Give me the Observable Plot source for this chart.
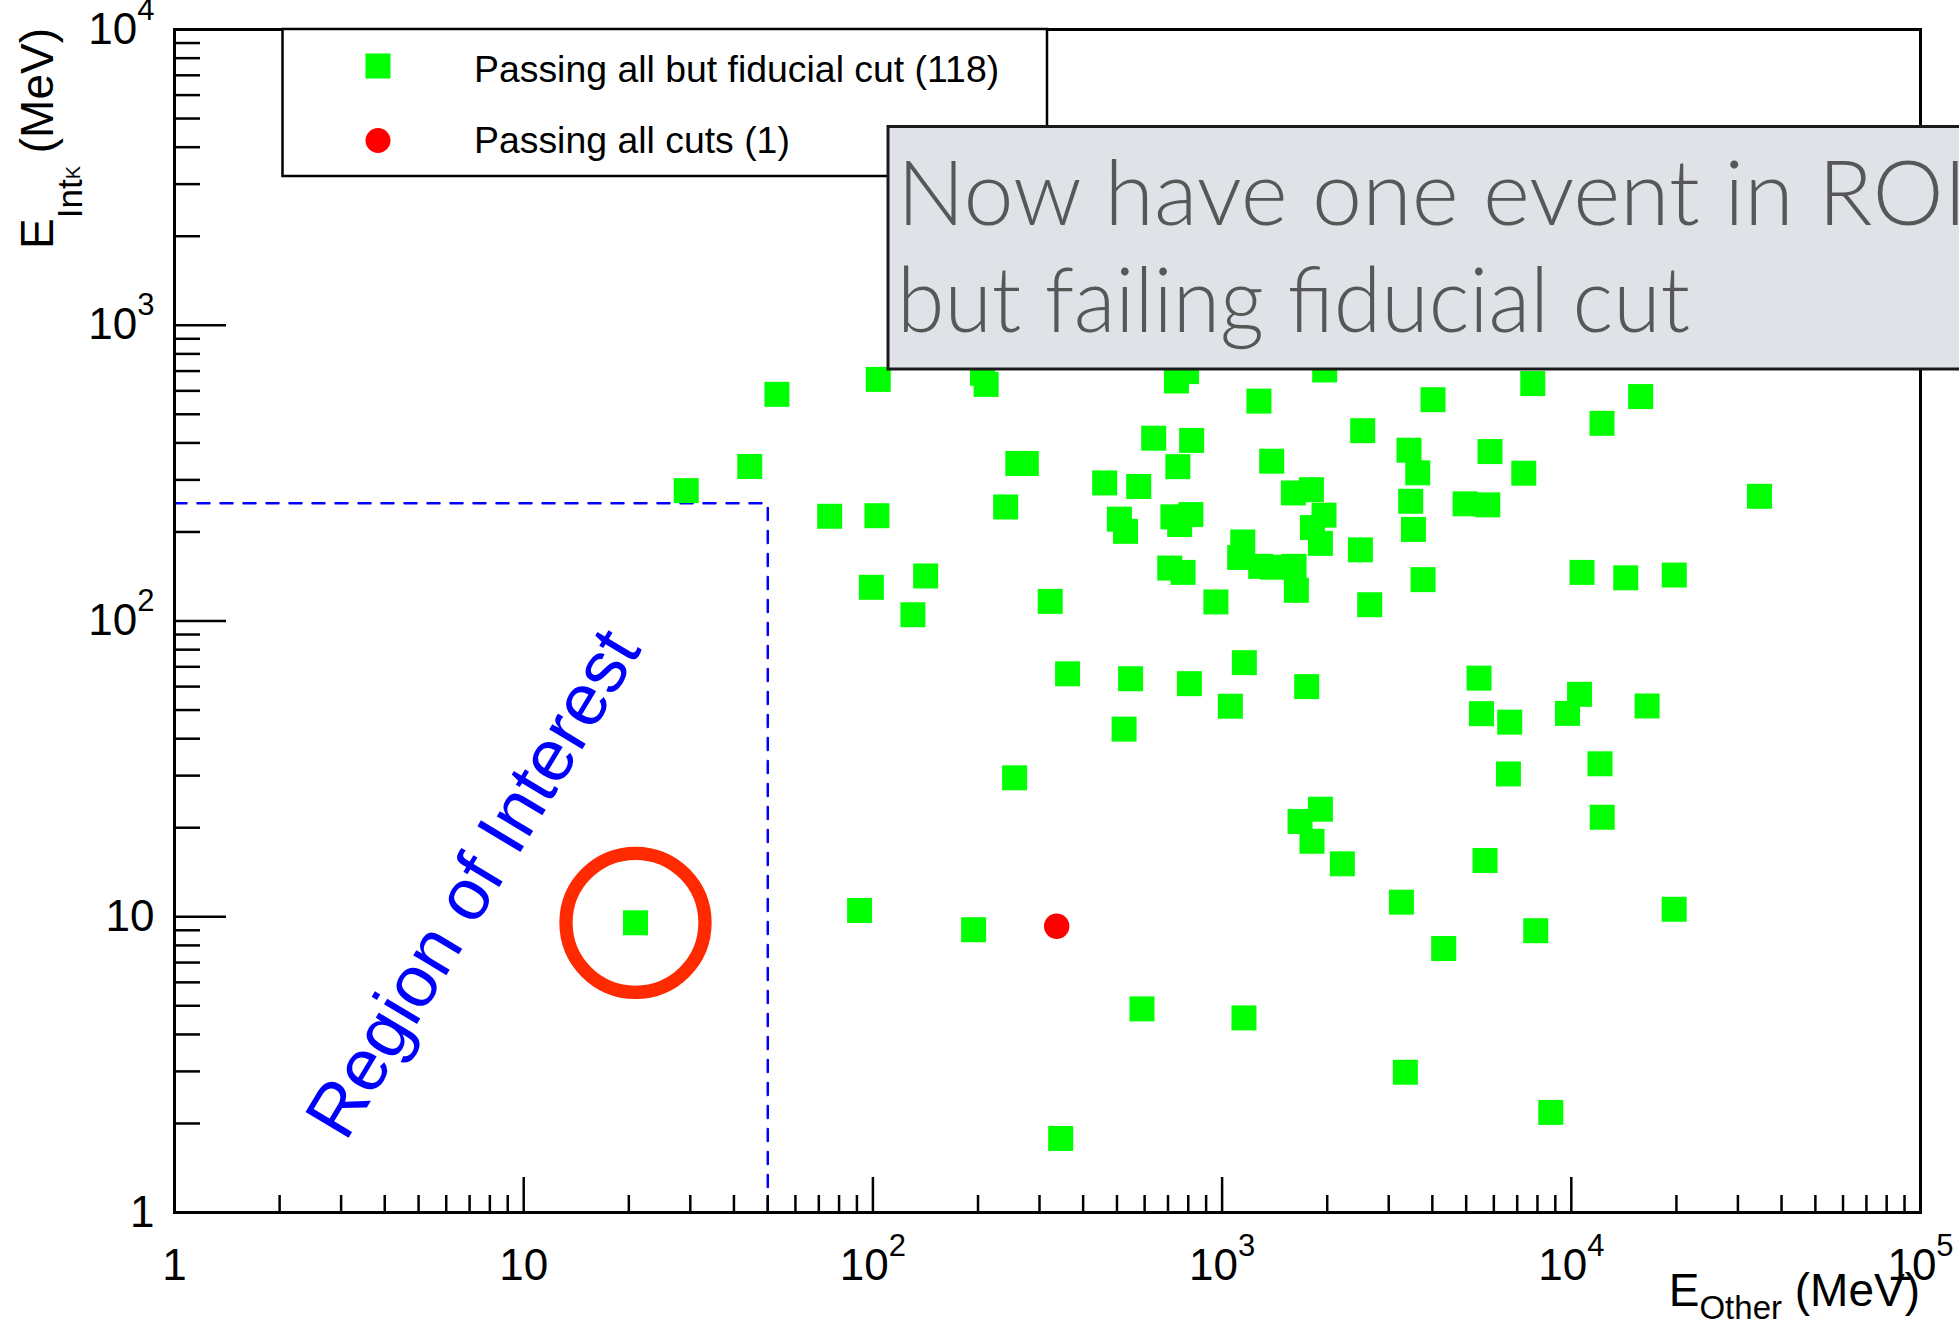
<!DOCTYPE html>
<html>
<head>
<meta charset="utf-8">
<script src="https://cdn.jsdelivr.net/npm/d3@7"></script>
<script src="https://cdn.jsdelivr.net/npm/@observablehq/plot@0.6"></script>
<style>
html, body { margin: 0; padding: 0; background: #fff; overflow: hidden; }
#wrap { position: relative; width: 1959px; height: 1323px; overflow: hidden; }
</style>
</head>
<body>
<div id="wrap"></div>
<script>
// ---- data ----
// Events passing all but the fiducial cut: E_Other (MeV) and E_Int_K (MeV)
const eOtherPass = [53.1,103.6,206,211,44.4,29.2,75.2,102.7,260,275,240,461,577,508,529,637,99,141.6,130.2,322,361,547,524,
  740,791,1967,1275,4018,7756,15800,12245,2527,818,747,1387,3430,3633,5851,7309,1600,1802,3468,4963,5764,3531,723,814,756,1958,1814,1912,1146,1123,1290,1393,1607,1632,2489,708,773,960,2647,3762,10732,14320,19720,1158,806,1056,1747,5443,5530,6662,10560,9754,16480,
  34580,12085,12262,19700,
  6607,1912,1672,1809,2210,5661,3262,7910,4311,1155,3348,8734,
  254.6,91.6,194.3,589.6,345,20.9];
const eIntPass = [584,656,688,631,333,276,226,227,341,341,243,293,285,221,201,415,130,142,105,116.5,66.3,63.8,43.1,
  648,697,706,554,560,635,574,466,440,408,332.5,347,378,317,374,316,271,278,254,249,247,204,225,229,212,228,207,183,185,164,153,152,153,127,174,151,146,116,113.5,138,146,140,143,72.3,61.4,51.5,60,64.1,48.6,45.5,56.5,48.7,51.6,
  264,32.9,21.7,10.6,
  30.4,23.1,21,18,15.1,15.5,11.2,8.97,7.81,4.55,2.98,2.18,
  29.5,10.5,9.04,4.88,1.78,9.54];
// Event passing all cuts
const eOtherAll = [336];
const eIntAll = [9.29];
// Circled event inside the region of interest
const circledOther = [20.9];
const circledInt = [9.54];
// Region of interest cut values
const roiOther = 50;
const roiInt = 250;
// Axis ticks and labels
const xMajor = [1, 10, 100, 1000, 10000, 100000];
const xTickLabels = ["1", "10", "10^2", "10^3", "10^4", "10^5"];
const yMajor = [1, 10, 100, 1000, 10000];
const yTickLabels = ["1", "10", "10^2", "10^3", "10^4"];
// Texts
const legendLabels = ["Passing all but fiducial cut (118)", "Passing all cuts (1)"];
const noteLines = ["Now have one event in ROI", "but failing fiducial cut"];
const roiLabel = "Region of Interest";
const roiLabelAt = [7.2, 12.9];

// ---- derived tables ----
const minorTicks = (nDec) => {
  const out = [];
  for (let k = 0; k < nDec; k++) for (let m = 2; m <= 9; m++) out.push(m * Math.pow(10, k));
  return out;
};
const xMinor = minorTicks(5);
const yMinor = minorTicks(4);
const passing = eOtherPass.map((x, i) => ({x, y: eIntPass[i]}));
const allCuts = eOtherAll.map((x, i) => ({x, y: eIntAll[i]}));
const circled = circledOther.map((x, i) => ({x, y: circledInt[i]}));
const roiPath = [[1, roiInt], [roiOther, roiInt], [roiOther, 1]];

const FONT = "Liberation Sans, Arial, Helvetica, sans-serif";
const W = 1959, H = 1323;

const chart = Plot.plot({
  width: W, height: H,
  marginLeft: 174, marginRight: 39, marginTop: 29, marginBottom: 111,
  style: {fontFamily: FONT, background: "white", color: "black", overflow: "visible"},
  x: {type: "log", domain: [1, 1e5]},
  y: {type: "log", domain: [1, 1e4]},
  marks: [
    Plot.line(roiPath, {stroke: "#0000ff", strokeWidth: 2.5, strokeDasharray: "12,11"}),
    Plot.dot(passing, {x: "x", y: "y", symbol: "square", r: 14.1, fill: "#00ff00", stroke: "none"}),
    Plot.dot(allCuts, {x: "x", y: "y", symbol: "circle", r: 12.7, fill: "#ff0000", stroke: "none"}),
    Plot.dot(circled, {x: "x", y: "y", r: 69.5, fill: "none", stroke: "#ff2a00", strokeWidth: 13.3}),
    Plot.text([roiLabel], {x: () => roiLabelAt[0], y: () => roiLabelAt[1], text: d => d,
      rotate: -59, fontSize: 73, fill: "#0000ff", fontFamily: FONT}),
    // x axis: minor ticks, major ticks, labels
    Plot.axisX({anchor: "bottom", ticks: xMinor, tickSize: -17, fill: "none", label: null, strokeWidth: 2.5}),
    Plot.axisX({anchor: "bottom", ticks: xMajor, tickSize: -35, fill: "none", label: null, strokeWidth: 2.5}),
    Plot.axisX({anchor: "bottom", ticks: xMajor, tickSize: 0, tickPadding: 36, fontSize: 44, label: null,
      tickFormat: d => xTickLabels[xMajor.indexOf(d)]}),
    // y axis
    Plot.axisY({anchor: "left", ticks: yMinor, tickSize: -26, fill: "none", label: null, strokeWidth: 2.5}),
    Plot.axisY({anchor: "left", ticks: yMajor, tickSize: -52, fill: "none", label: null, strokeWidth: 2.5}),
    Plot.axisY({anchor: "left", ticks: yMajor, tickSize: 0, tickPadding: 20, fontSize: 44, label: null,
      tickFormat: d => yTickLabels[yMajor.indexOf(d)]}),
    Plot.frame({stroke: "black", strokeWidth: 3})
  ]
});

document.getElementById("wrap").appendChild(chart);
const svg = d3.select(chart);

// superscripts in tick labels
svg.selectAll("text").each(function () {
  const m = /^10\^(\d)$/.exec(this.textContent);
  if (m) {
    this.textContent = "10";
    d3.select(this).append("tspan").attr("dy", -24).attr("font-size", 31).text(m[1]);
  }
});

// axis titles
const xt = svg.append("text").attr("x", 1920).attr("y", 1306).attr("text-anchor", "end")
  .attr("font-family", FONT).attr("font-size", 46).attr("fill", "black");
xt.append("tspan").text("E");
xt.append("tspan").attr("font-size", 33).attr("dy", 13).text("Other");
xt.append("tspan").attr("font-size", 46).attr("dy", -13).text(" (MeV)");

const yt = svg.append("text").attr("transform", "translate(53,28) rotate(-90)").attr("text-anchor", "end")
  .attr("font-family", FONT).attr("font-size", 46).attr("fill", "black");
yt.append("tspan").text("E");
yt.append("tspan").attr("font-size", 35).attr("dy", 29).text("Int");
yt.append("tspan").attr("font-size", 20).attr("dy", -2).text("K");
yt.append("tspan").attr("font-size", 46).attr("dy", -27).text(" (MeV)");

// legend
const lg = svg.append("g").attr("font-family", FONT).attr("text-anchor", "start");
lg.append("rect").attr("x", 282.5).attr("y", 29).attr("width", 764.5).attr("height", 147)
  .attr("fill", "white").attr("stroke", "black").attr("stroke-width", 2.5);
lg.append("rect").attr("x", 365.5).attr("y", 53.5).attr("width", 25).attr("height", 25).attr("fill", "#00ff00");
lg.append("circle").attr("cx", 378).attr("cy", 140.5).attr("r", 12.5).attr("fill", "#ff0000");
lg.append("text").attr("x", 474).attr("y", 82).attr("text-anchor", "start").attr("font-size", 37.4).attr("fill", "black").text(legendLabels[0]);
lg.append("text").attr("x", 474).attr("y", 153).attr("text-anchor", "start").attr("font-size", 37.4).attr("fill", "black").text(legendLabels[1]);

// annotation box
const an = svg.append("g").attr("text-anchor", "start");
an.append("rect").attr("x", 888).attr("y", 126.5).attr("width", 1200).attr("height", 242.5)
  .attr("fill", "#dfe3e7").attr("stroke", "#1a1a1a").attr("stroke-width", 3);
an.append("text").attr("x", 897).attr("y", 225).attr("text-anchor", "start").attr("font-family", "Lato, Open Sans, sans-serif")
  .attr("font-weight", 300).attr("font-size", 90).attr("fill", "#575757")
  .attr("textLength", 1070).attr("lengthAdjust", "spacingAndGlyphs").text(noteLines[0]);
an.append("text").attr("x", 897).attr("y", 332).attr("text-anchor", "start").attr("font-family", "Lato, Open Sans, sans-serif")
  .attr("font-weight", 300).attr("font-size", 90).attr("fill", "#575757")
  .attr("textLength", 793).attr("lengthAdjust", "spacingAndGlyphs").text(noteLines[1]);
</script>
</body>
</html>
